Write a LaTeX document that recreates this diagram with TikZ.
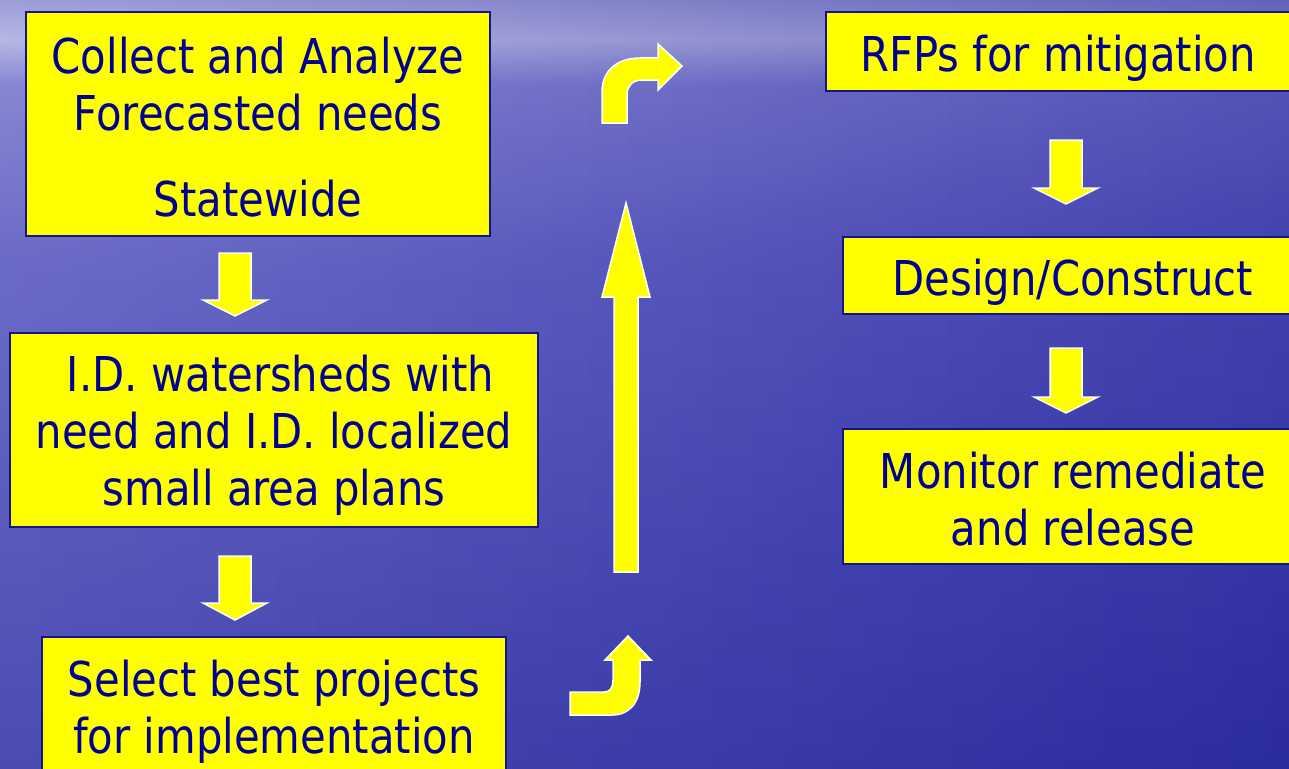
\documentclass[tikz,border=0pt]{standalone}
\usepackage{fontspec}
\setmainfont[FakeStretch=0.87]{DejaVu Sans}
\usetikzlibrary{fadings}
\definecolor{bgtop}{RGB}{130,130,204}
\definecolor{bgband}{RGB}{176,176,226}
\definecolor{bgupper}{RGB}{118,118,206}
\definecolor{bgmid}{RGB}{86,86,192}
\definecolor{bgbot}{RGB}{46,46,166}
\definecolor{bgright}{RGB}{34,34,150}
\definecolor{boxblue}{RGB}{20,20,140}
\definecolor{txtblue}{RGB}{0,0,145}
\definecolor{pureyellow}{RGB}{255,255,0}
\tikzfading[name=fadeR, left color=transparent!100, right color=transparent!0]
\tikzfading[name=fadeL, left color=transparent!0, right color=transparent!100]
\newcommand\BlkDown[4]{%
  \path[blk] (#1-16,#2) -- (#1+16,#2) -- (#1+16,#3) -- (#1+32,#3) -- (#1,#4) -- (#1-32,#3) -- (#1-16,#3) -- cycle;}
\begin{document}
\begin{tikzpicture}[x=1pt,y=-1pt,
  box/.style={draw=boxblue, line width=1.6pt, fill=pureyellow, inner sep=0pt},
  txt/.style={text=txtblue, inner sep=0pt, align=center, font=\fontsize{48}{57}\selectfont},
  blk/.style={fill=pureyellow, draw=white, line width=1.5pt, line join=miter}]
\useasboundingbox (0,0) rectangle (1289,768);
\clip (0,0) rectangle (1289,768);
% background
\fill[top color=bgtop, bottom color=bgband] (-20,-20) rectangle (1320,40);
\fill[top color=bgband, bottom color=bgupper] (-20,39.5) rectangle (1320,85);
\fill[top color=bgupper, bottom color=bgmid] (-20,84.5) rectangle (1320,260);
\fill[top color=bgmid, bottom color=bgbot] (-20,259.5) rectangle (1320,800);
\fill[bgright, path fading=fadeR, fill opacity=0.45] (-60,-60) rectangle (1360,830);
\fill[white, path fading=fadeL, fill opacity=0.14] (-60,-60) rectangle (1360,830);
% boxes
\node[box, minimum width=464pt, minimum height=224pt] (collect) at (258,124) {};
\node[txt, yshift=-3pt] (collectT) at (collect.center)
  {Collect and Analyze\\Forecasted needs\\[29pt]Statewide};
\node[box, minimum width=528pt, minimum height=194pt] (idw) at (274,430) {};
\node[txt, yshift=-5pt] (idwT) at (idw.center)
  {\ I.D. watersheds with\\need and I.D. localized\\small area plans};
\node[box, minimum width=464pt, minimum height=142pt] (select) at (274,708) {};
\node[txt, yshift=-3.5pt] (selectT) at (select.center)
  {Select best projects\\for implementation};
\node[box, minimum width=464pt, minimum height=79pt] (rfp) at (1058,51.5) {};
\node[txt, yshift=-7pt] (rfpT) at (rfp.center) {RFPs for mitigation};
\node[box, minimum width=460pt, minimum height=77pt] (design) at (1073,275.5) {};
\node[txt, yshift=-7pt] (designT) at (design.center) {Design/Construct};
\node[box, minimum width=460pt, minimum height=135pt] (monitor) at (1073,496.5) {};
\node[txt, yshift=-3pt] (monitorT) at (monitor.center) {Monitor remediate\\and release};
% block arrows
\BlkDown{235}{253}{300}{316}
\BlkDown{235}{556}{603}{620}
\BlkDown{1066}{140}{188}{204}
\BlkDown{1066}{348}{397}{413}
\path[blk] (614,572) -- (614,297) -- (602,297) -- (626,203) -- (650,297) -- (638,297) -- (638,572) -- cycle;
\path[blk] (602,123) -- (602,92) .. controls (602,70) and (618,58) .. (640,58) -- (658,58) -- (658,44)
  -- (682,66) -- (658,90) -- (658,80) -- (642,80) .. controls (633,80) and (627,86) .. (627,94) -- (627,123) -- cycle;
\path[blk] (570,715) -- (612,715) .. controls (630,715) and (640,702) .. (640,682) -- (640,660) -- (651,660)
  -- (628,636) -- (605,660) -- (613,660) -- (613,680) .. controls (613,688) and (610,692) .. (604,692) -- (570,692) -- cycle;
\end{tikzpicture}
\end{document}
